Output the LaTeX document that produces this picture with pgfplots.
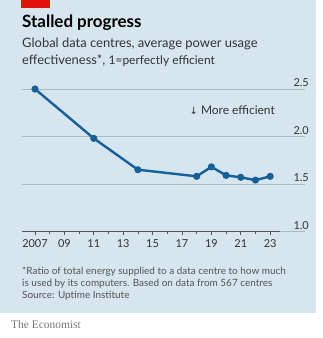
\documentclass[border=0pt]{standalone}
\usepackage{pgfplots}
\pgfplotsset{compat=1.18}
\usepackage{fontspec}
\setmainfont{Lato}
\newfontfamily\sym{DejaVu Sans}
\newfontfamily\econ{Liberation Serif}
\definecolor{bg}{HTML}{D6E5EE}
\definecolor{ered}{HTML}{E3120B}
\definecolor{eblue}{HTML}{16609A}
\definecolor{gridc}{HTML}{A9B9C4}
\definecolor{txt}{HTML}{333333}
\definecolor{foot}{HTML}{555555}
\begin{document}
\begin{tikzpicture}[x=1bp,y=1bp]
\path (0,0) rectangle (323,-338);
\fill[bg] (0,0) rectangle (316,-313);
\fill[ered] (21,0) rectangle (50,-8);
\node[anchor=base west,inner sep=0,font=\fontsize{17}{19}\selectfont\bfseries,text=black] at (22,-27.5) {Stalled progress};
\node[anchor=base west,inner sep=0,font=\fontsize{13}{15}\selectfont,text=txt] at (22,-47.7) {Global data centres, average power usage};
\node[anchor=base west,inner sep=0,font=\fontsize{13}{15}\selectfont,text=txt] at (22,-64) {effectiveness*, {\fontsize{12}{14}\selectfont 1=perfectly efficient}};
\begin{axis}[
  at={(22bp,-231.4bp)}, anchor=south west,
  scale only axis, width=283bp, height=142.4bp,
  xmin=2006.116, xmax=2025.37, ymin=1, ymax=2.5,
  clip=false,
  axis x line*=bottom, x axis line style={draw=none},
  axis y line*=right, y axis line style={draw=none},
  xtick={2007,2009,2011,2013,2015,2017,2019,2021,2023},
  xticklabels={2007,09,11,13,15,17,19,21,23},
  minor xtick={2008,2010,2012,2014,2016,2018,2020,2022},
  xtick style={draw=foot, line width=0.7bp},
  minor tick style={draw=foot, line width=0.7bp},
  tick align=outside,
  major tick length=4bp, minor tick length=2.5bp,
  xticklabel style={font=\fontsize{11}{13}\selectfont, text=txt, inner sep=0pt, yshift=-4bp},
  ytick={1,1.5,2,2.5},
  yticklabels={1.0,1.5,2.0,2.5},
  ytick style={draw=none},
  yticklabel style={anchor=south east, font=\fontsize{11}{13}\selectfont, text=txt, inner sep=0pt, yshift=2bp, xshift=0bp},
  ymajorgrids, major grid style={draw=gridc, line width=0.7bp},
]
\draw[foot, line width=0.9bp] (axis cs:2006.116,1) -- (axis cs:2023.67,1);
\addplot[eblue, line width=2.4bp, mark=*, mark size=2.3bp, mark options={fill=eblue, draw=eblue}] coordinates {
(2007,2.50) (2011,1.98) (2014,1.65) (2018,1.58) (2019,1.68) (2020,1.59) (2021,1.57) (2022,1.54) (2023,1.58)
};
\node[anchor=base east, inner sep=0, font=\fontsize{12}{14}\selectfont, text=txt] at (axis cs:2023.33,2.229) {{\sym\fontsize{10}{12}\selectfont ↓} More efficient};
\end{axis}
\node[anchor=base west,inner sep=0,font=\fontsize{10}{12}\selectfont,text=foot] at (22,-274.3) {*Ratio of total energy supplied to a data centre to how much};
\node[anchor=base west,inner sep=0,font=\fontsize{10}{12}\selectfont,text=foot] at (22,-286.7) {is used by its computers. Based on data from 567 centres};
\node[anchor=base west,inner sep=0,font=\fontsize{10}{12}\selectfont,text=foot] at (22,-298.7) {Source: Uptime Institute};
\node[anchor=base west,inner sep=0,font=\econ\fontsize{11.5}{13}\selectfont,text=foot!80] at (11,-328) {The Economist};
\end{tikzpicture}
\end{document}
